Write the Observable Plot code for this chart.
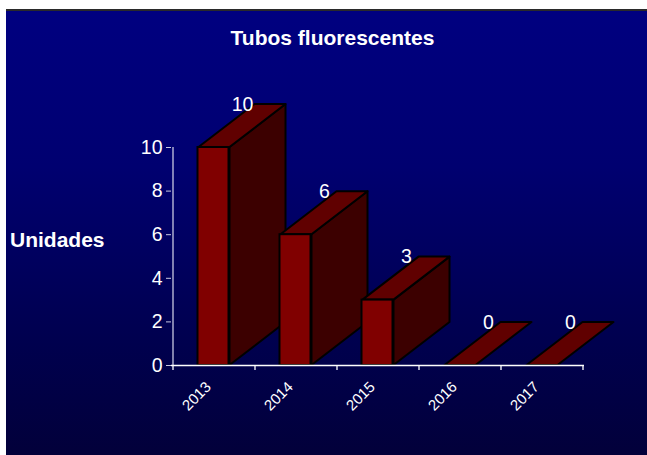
<!DOCTYPE html>
<html>
<head>
<meta charset="utf-8">
<script src="https://cdn.jsdelivr.net/npm/d3@7"></script>
<script src="https://cdn.jsdelivr.net/npm/@observablehq/plot@0.6"></script>
<style>
  html, body { margin: 0; padding: 0; background: #ffffff; }
  #wrap { position: relative; width: 647px; height: 455px; overflow: hidden; font-family: "Liberation Sans", Arial, sans-serif; }
  #bg { position: absolute; left: 6px; top: 9px; right: 0; bottom: 0;
        border-top: 2px solid #2a2a2a;
        background: linear-gradient(to bottom, #000080 0%, #000070 35%, #00004e 75%, #02003a 100%); }
  #chart { position: absolute; left: 0; top: 0; }
  .title { position: absolute; left: 0; width: 665px; top: 27px; text-align: center; color: #ffffff;
           font-weight: bold; font-size: 21px; line-height: 21px; }
  .ylab { position: absolute; left: 10px; top: 229px; color: #ffffff; font-weight: bold; font-size: 21px; line-height: 21px; }
</style>
</head>
<body>
<div id="wrap">
  <div id="bg"></div>
  <div id="chart"></div>
  <div class="title">Tubos fluorescentes</div>
  <div class="ylab">Unidades</div>
</div>
<script>
const years = ["2013", "2014", "2015", "2016", "2017"];
const values = [10, 6, 3, 0, 0];
const yTicks = [0, 2, 4, 6, 8, 10];

const data = years.map((year, i) => ({year, value: values[i]}));

const depthX = 56, depthY = -43;   // 3D depth offset in pixels
const inset = 25.5;                 // front face inset in each band

function bars3d(index, scales, values_, dimensions) {
  const ns = "http://www.w3.org/2000/svg";
  const g = document.createElementNS(ns, "g");
  const step = scales.x(years[1]) - scales.x(years[0]);
  const y0 = scales.y(0);
  const poly = (pts, fill) => {
    const p = document.createElementNS(ns, "polygon");
    p.setAttribute("points", pts.map(d => d.join(",")).join(" "));
    p.setAttribute("fill", fill);
    p.setAttribute("stroke", "#000000");
    p.setAttribute("stroke-width", "2");
    p.setAttribute("stroke-linejoin", "round");
    g.appendChild(p);
  };
  const line = (x1, y1, x2, y2, stroke) => {
    const l = document.createElementNS(ns, "line");
    l.setAttribute("x1", x1); l.setAttribute("y1", y1);
    l.setAttribute("x2", x2); l.setAttribute("y2", y2);
    l.setAttribute("stroke", stroke);
    l.setAttribute("stroke-width", "1.3");
    g.appendChild(l);
  };
  // y axis line
  const xl = scales.x(years[0]);
  line(xl, scales.y(0), xl, scales.y(10), "#c8c8e0");
  // x axis ticks at band boundaries
  years.forEach(yr => line(scales.x(yr), y0, scales.x(yr), y0 + 5, "#ffffff"));
  line(scales.x(years[years.length - 1]) + step, y0, scales.x(years[years.length - 1]) + step, y0 + 5, "#ffffff");
  // side and top faces
  data.forEach(d => {
    const x1 = scales.x(d.year) + inset;
    const x2 = scales.x(d.year) + step - inset;
    const yv = scales.y(d.value);
    if (d.value > 0) {
      poly([[x2, y0], [x2 + depthX, y0 + depthY], [x2 + depthX, yv + depthY], [x2, yv]], "#3c0000");
    }
    poly([[x1, yv], [x2, yv], [x2 + depthX, yv + depthY], [x1 + depthX, yv + depthY]], "#600000");
  });
  return g;
}

const plot = Plot.plot({
  width: 647,
  height: 455,
  marginLeft: 171,
  marginRight: 63,
  marginTop: 147,
  marginBottom: 90,
  style: {background: "transparent", color: "#ffffff", fontFamily: "'Liberation Sans', Arial, sans-serif", overflow: "visible"},
  x: {type: "band", domain: years, padding: 0, axis: null},
  y: {domain: [0, 10], axis: null},
  marks: [
    bars3d,
    Plot.barY(data.filter(d => d.value > 0), {x: "year", y: "value", fill: "#800000", stroke: "#000000", strokeWidth: 2,
      insetLeft: inset - 1, insetRight: inset + 1}),
    Plot.ruleY([0], {stroke: "#ffffff", strokeWidth: 1.5}),
    Plot.axisY(yTicks, {anchor: "left", tickSize: 5, tickPadding: 4, fontSize: 19.5, stroke: "#c8c8e0", fill: "#ffffff", label: null, tickFormat: d => String(d)}),
    Plot.text(data, {x: "year", y: "value", text: d => String(d.value), dx: 28, dy: depthY, fill: "#ffffff", fontSize: 19.5, lineAnchor: "middle"}),
    Plot.text(years, {x: d => d, y: 0, text: d => d, rotate: -45, textAnchor: "end", lineAnchor: "middle", dx: -6, dy: 19, fill: "#ffffff", fontSize: 15})
  ]
});
document.getElementById("chart").appendChild(plot);
</script>
</body>
</html>
